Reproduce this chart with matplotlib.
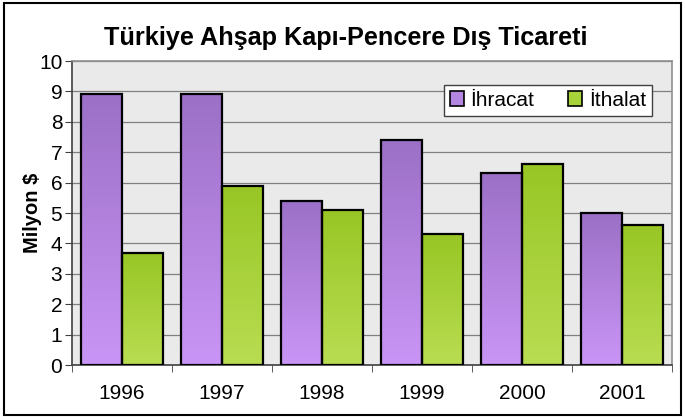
import numpy as np
import matplotlib
matplotlib.use("Agg")
import matplotlib.pyplot as plt
from matplotlib.patches import Patch, Rectangle
from matplotlib.colors import LinearSegmentedColormap

years = ["1996", "1997", "1998", "1999", "2000", "2001"]
ihracat = [8.9, 8.9, 5.4, 7.4, 6.3, 5.0]
ithalat = [3.7, 5.9, 5.1, 4.3, 6.6, 4.6]
series_names = ["İhracat", "İthalat"]
title = "Türkiye Ahşap Kapı-Pencere Dış Ticareti"
ylabel = "Milyon $"

plt.rcParams['font.family'] = ['Liberation Sans', 'DejaVu Sans']

fig = plt.figure(figsize=(6.85, 4.17), dpi=100)
ax = fig.add_axes([0.1051, 0.1247, 0.876, 0.729])
ax.set_facecolor('#EAEAEA')

purple_cmap = LinearSegmentedColormap.from_list('p', ['#C995F6', '#9C70C6'])
green_cmap = LinearSegmentedColormap.from_list('g', ['#B9DD52', '#98C625'])

x = np.arange(len(years))
w = 0.41
grad = np.linspace(0, 1, 256).reshape(-1, 1)

bars1 = ax.bar(x - w / 2, ihracat, w, facecolor='none', edgecolor='black', linewidth=1.6, zorder=4)
bars2 = ax.bar(x + w / 2, ithalat, w, facecolor='none', edgecolor='black', linewidth=1.6, zorder=4)
for bars, cmap in ((bars1, purple_cmap), (bars2, green_cmap)):
    for b in bars:
        x0, y0 = b.get_x(), b.get_y()
        ax.imshow(grad, cmap=cmap, origin='lower', aspect='auto',
                  extent=[x0, x0 + b.get_width(), y0, y0 + b.get_height()], zorder=3)

ax.set_xlim(-0.5, len(years) - 0.5)
ax.set_ylim(0, 10)
ax.set_yticks(range(0, 11))
ax.yaxis.grid(True, color='#808080', linewidth=0.9, zorder=1)
ax.set_axisbelow(True)

ax.set_xticks(x)
ax.set_xticklabels(years)
ax.set_xticks(np.arange(-0.5, len(years)), minor=True)
ax.tick_params(axis='x', which='major', length=0, labelsize=15, pad=14)
ax.tick_params(axis='x', which='minor', length=5, color='#404040', direction='out')
ax.tick_params(axis='y', length=5, color='#404040', labelsize=15, pad=2)

for s in ('top', 'right'):
    ax.spines[s].set_color('#909090')
    ax.spines[s].set_linewidth(1.2)
for s in ('left', 'bottom'):
    ax.spines[s].set_color('#404040')
    ax.spines[s].set_linewidth(1.2)

ax.set_ylabel(ylabel, fontsize=14.5, fontweight='bold', labelpad=-2)
fig.text(0.505, 0.91, title, ha='center', va='center', fontsize=18.2, fontweight='bold')

handles = [Patch(facecolor='#B585E2', edgecolor='black', linewidth=1.2),
           Patch(facecolor='#A8D23A', edgecolor='black', linewidth=1.2)]
leg = ax.legend(handles, series_names, loc='upper right', bbox_to_anchor=(0.984, 0.956),
                ncol=2, fontsize=15, frameon=True, fancybox=False, framealpha=1,
                edgecolor='#404040', handlelength=0.7, handleheight=0.7,
                handletextpad=0.3, columnspacing=1.6, borderpad=0.3)
leg.get_frame().set_linewidth(1.0)
leg.set_zorder(10)

fig.patches.append(Rectangle((0.006, 0.004), 0.988, 0.99, transform=fig.transFigure,
                             fill=False, edgecolor='black', linewidth=1.5))

fig.savefig('out.png', dpi=100)
